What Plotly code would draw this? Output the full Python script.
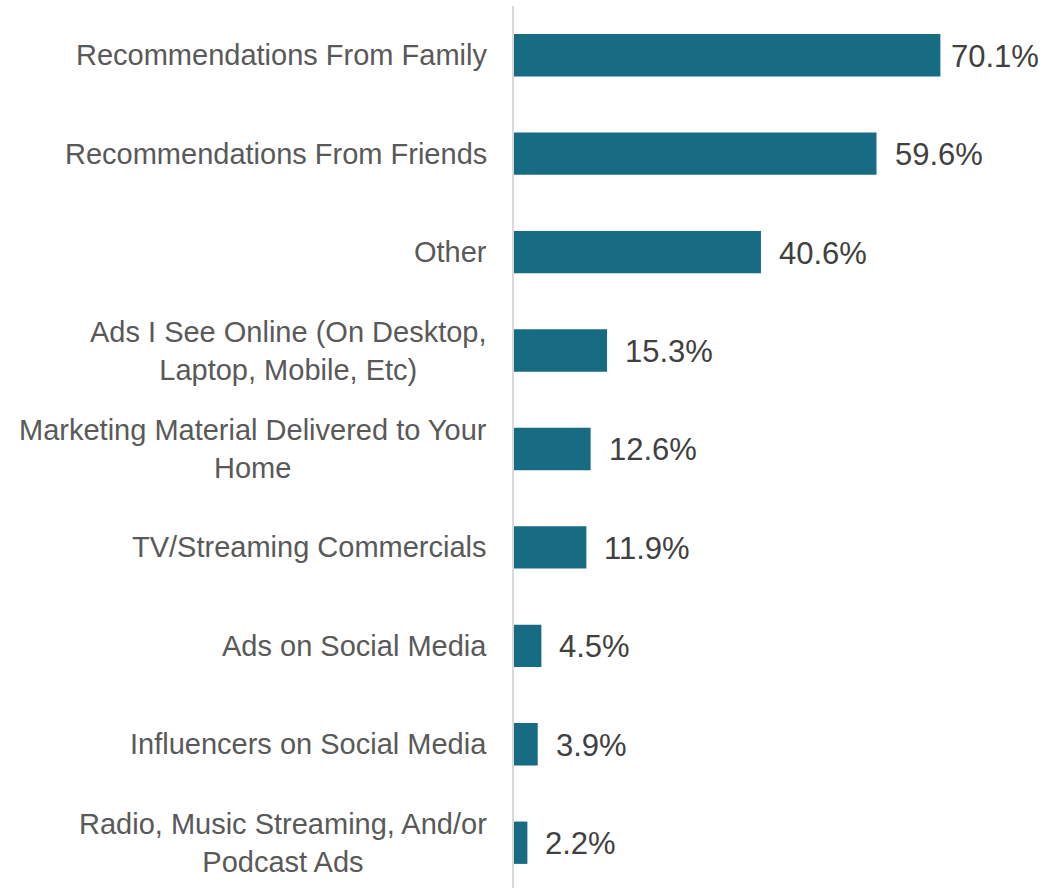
import plotly.graph_objects as go

categories = [
    "Recommendations From Family",
    "Recommendations From Friends",
    "Other",
    "Ads I See Online (On Desktop,<br>Laptop, Mobile, Etc)",
    "Marketing Material Delivered to Your<br>Home",
    "TV/Streaming Commercials",
    "Ads on Social Media",
    "Influencers on Social Media",
    "Radio, Music Streaming, And/or<br>Podcast Ads",
]
values = [70.1, 59.6, 40.6, 15.3, 12.6, 11.9, 4.5, 3.9, 2.2]

BAR_COLOR = "#176c84"
LABEL_COLOR = "#595959"
VALUE_COLOR = "#404040"
FONT = "Liberation Sans, Arial, sans-serif"

fig = go.Figure(
    go.Bar(
        x=values,
        y=categories,
        orientation="h",
        marker=dict(color=BAR_COLOR, line=dict(width=0)),
        width=0.43,
        hoverinfo="skip",
    )
)

vmax = max(values)
for cat, v in zip(categories, values):
    # value label just past the end of each bar (pulled in for the longest bar)
    fig.add_annotation(
        x=v, y=cat, text=f"{v:.1f}%", showarrow=False,
        xanchor="left", yanchor="middle",
        xshift=9 if v == vmax else 16, yshift=-1,
        font=dict(family=FONT, size=31, color=VALUE_COLOR),
    )
    # category label, centred lines, right edge next to the axis
    fig.add_annotation(
        x=0, xref="paper", y=cat, text=cat, showarrow=False,
        xanchor="right", yanchor="middle", align="center",
        xshift=-25,
        font=dict(family=FONT, size=29, color=LABEL_COLOR),
    )

fig.update_layout(
    width=1045, height=888,
    margin=dict(l=514, r=0, t=6, b=0),
    paper_bgcolor="white", plot_bgcolor="white",
    showlegend=False,
    font=dict(family=FONT),
    xaxis=dict(range=[0, 87.3], visible=False, fixedrange=True),
    yaxis=dict(
        type="category",
        categoryorder="array", categoryarray=categories,
        range=[8.46, -0.5],
        showline=True, linecolor="#d9d9d9", linewidth=2,
        showgrid=False, zeroline=False, ticks="",
        showticklabels=False,
    ),
)

fig.write_html("out.html")
